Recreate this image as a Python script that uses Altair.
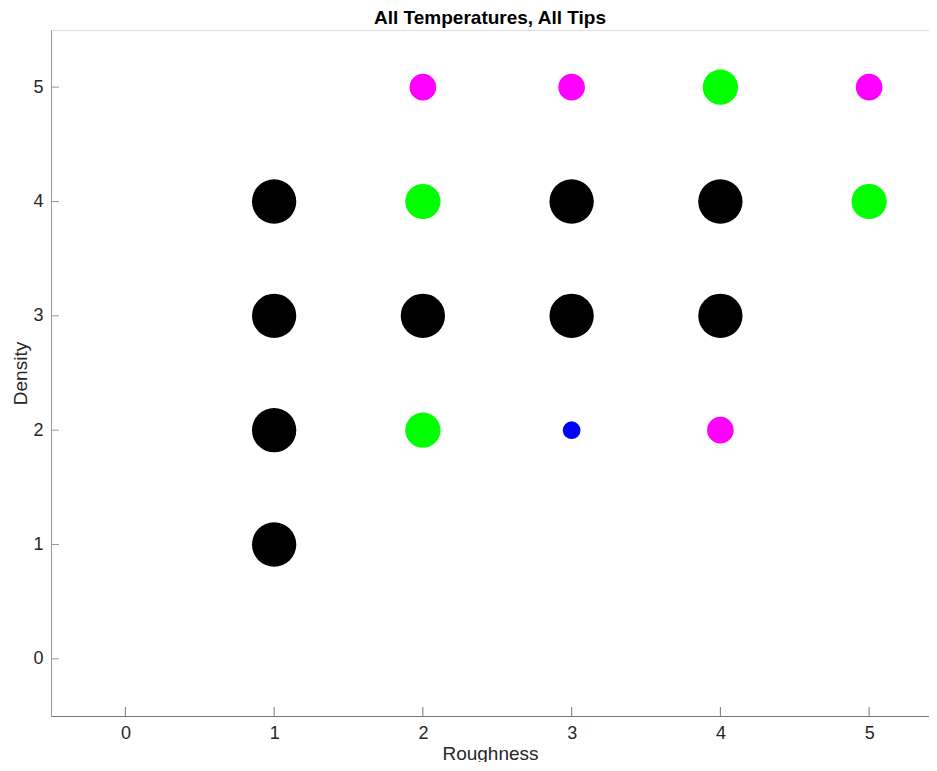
import altair as alt
import pandas as pd

# data
roughness = [1, 1, 1, 1, 2, 2, 2, 2, 3, 3, 3, 3, 4, 4, 4, 4, 5, 5]
density   = [1, 2, 3, 4, 2, 3, 4, 5, 2, 3, 4, 5, 2, 3, 4, 5, 4, 5]
group     = ["D", "D", "D", "D", "C", "D", "C", "B", "A", "D", "D", "B", "B", "D", "D", "C", "C", "B"]

group_names  = ["A", "B", "C", "D"]
group_colors = ["#0000ff", "#ff00ff", "#00ff00", "#000000"]
group_sizes  = [314, 707, 1240, 1963]

tick_values = [0, 1, 2, 3, 4, 5]

df = pd.DataFrame({"Roughness": roughness, "Density": density, "group": group})
ticks = pd.DataFrame({"v": tick_values})

W, H = 878, 686
xscale = alt.Scale(domain=[-0.5, -0.5 + 878 / 148.75], nice=False, zero=False)
yscale = alt.Scale(domain=[-0.5, 5.5], nice=False, zero=False)

FONT = "Liberation Sans"

points = alt.Chart(df).mark_circle(opacity=1).encode(
    x=alt.X("Roughness:Q", scale=xscale,
            axis=alt.Axis(values=tick_values, title="Roughness", grid=False, tickSize=0,
                          labelPadding=8, titlePadding=2, domainColor="#777777",
                          labelFontSize=18, titleFontSize=19, labelColor="#262626",
                          titleColor="#262626", labelFont=FONT, titleFont=FONT,
                          titleFontWeight="normal", format="d")),
    y=alt.Y("Density:Q", scale=yscale,
            axis=alt.Axis(values=tick_values, title="Density", grid=False, tickSize=0,
                          labelPadding=8, titlePadding=2, domainColor="#999999",
                          labelFontSize=18, titleFontSize=19, labelColor="#262626",
                          titleColor="#262626", labelFont=FONT, titleFont=FONT,
                          titleFontWeight="normal", format="d")),
    color=alt.Color("group:N", scale=alt.Scale(domain=group_names, range=group_colors), legend=None),
    size=alt.Size("group:N", scale=alt.Scale(type="ordinal", domain=group_names, range=group_sizes), legend=None),
)

xticks = alt.Chart(ticks).mark_rule(color="#777777", strokeWidth=1).encode(
    x=alt.X("v:Q", scale=xscale),
    y=alt.value(H - 9),
    y2=alt.value(H),
)

yticks = alt.Chart(ticks).mark_rule(color="#999999", strokeWidth=1).encode(
    y=alt.Y("v:Q", scale=yscale),
    x=alt.value(0),
    x2=alt.value(8),
)

chart = alt.layer(points, xticks, yticks).properties(
    width=W,
    height=H,
    title=alt.TitleParams("All Temperatures, All Tips", font=FONT, fontSize=19,
                          fontWeight="bold", color="#000000", offset=2, anchor="middle"),
    autosize=alt.AutoSizeParams(type="none"),
    padding={"left": 43, "top": 22, "right": 0, "bottom": 46},
).configure_view(stroke=None).configure(background="white")

chart.save("out.html", embed_options={"renderer": "svg", "actions": False})
